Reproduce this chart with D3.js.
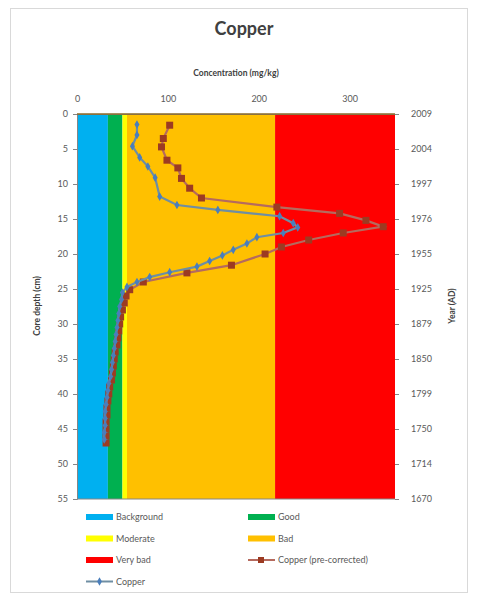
<!DOCTYPE html>
<html><head><meta charset="utf-8">
<script src="https://cdn.jsdelivr.net/npm/d3@7"></script>
<style>body{margin:0;background:#fff}svg{display:block}</style>
</head><body>
<svg id="c" width="478" height="599"></svg>
<script>
// ---- data ----
const bandNames = ["Background","Good","Moderate","Bad","Very bad"];
const bandUpper = [34, 50, 55, 218, 350];
const bandColors = ["#00B0F0","#00B050","#FFFF00","#FFC000","#FF0000"];

const depthTicks = [0,5,10,15,20,25,30,35,40,45,50,55];
const yearLabels = ["2009","2004","1997","1976","1955","1925","1879","1850","1799","1750","1714","1670"];
const concTicks = [0,100,200,300];

const copperDepth = [1.5,3,4.6,6.2,7.5,9.1,11.8,13,13.7,14.6,15.6,16.2,17,17.6,18.5,19.4,20.2,21,21.8,22.6,23.3,24,24.7,25.5,26.5,27.5,28.5,29.5,30.5,31.5,32.5,33.5,34.5,35.5,36.5,37.5,38.5,39.5,40.5,41.5,42.5,43.5,44.5,45.5,46.5];
const copperVal   = [66,66,61,69,78,86,91,110,155,223,238,243,227,198,187,172,160,146,132,102,80,66,55,50,49,47,46,45,44,43,42,41,40,39,38,37,35,34,33,32,31,31,31,30,30];

const preDepth = [1.6,3.5,4.7,6.6,7.7,9.2,10.6,12,13.3,14.2,15.2,16.1,17,18,19,20,21.6,22.7,24,25.1,26,27,28,29,30,31,32,33,34,35,36,37,38,39,40,41,42,43,44,45,46,47];
const preVal   = [102,95,93,99,111,115,124,137,220,289,318,337,293,255,225,207,170,121,73,58,54,52,50,48,47,46,45,44,42,41,40,39,38,36,35,34,33,33,32,32,32,32];

// ---- layout ----
const svg = d3.select("#c");
const font = "Lato, 'Open Sans', sans-serif";
const x = d3.scaleLinear().domain([0,350]).range([77,395]);
const y = d3.scaleLinear().domain([0,55]).range([114,499]);

svg.append("rect").attr("x",10.5).attr("y",8.5).attr("width",457).attr("height",584)
  .attr("fill","#fff").attr("stroke","#d9d9d9");

// bands
const lows = [0].concat(bandUpper.slice(0,-1));
svg.append("g").selectAll("rect").data(bandUpper).join("rect")
  .attr("x",(d,i)=>x(lows[i])).attr("width",(d,i)=>x(d)-x(lows[i]))
  .attr("y",y(0)).attr("height",y(55)-y(0))
  .attr("fill",(d,i)=>bandColors[i]);

// axes
const gTop = svg.append("g").attr("transform",`translate(0,${y(0)})`)
  .call(d3.axisTop(x).tickValues(concTicks).tickSize(0).tickPadding(12));
const gLeft = svg.append("g").attr("transform",`translate(${x(0)},0)`)
  .call(d3.axisLeft(y).tickValues(depthTicks).tickSize(4).tickPadding(5));
const yR = d3.scaleLinear().domain([0,55]).range([114,499]);
const gRight = svg.append("g").attr("transform",`translate(${x(350)},0)`)
  .call(d3.axisRight(yR).tickValues(depthTicks).tickSize(4).tickPadding(12)
    .tickFormat((d,i)=>yearLabels[i]));
[gTop,gLeft,gRight].forEach(g=>{
  g.selectAll("text").attr("font-family",font).attr("font-size",9).attr("fill","#595959");
  g.selectAll("line").attr("stroke","#868686");
  g.select(".domain").attr("stroke","#868686");
});
gRight.select(".domain").attr("stroke","none");
svg.append("line").attr("x1",x(0)).attr("x2",x(350)).attr("y1",y(55)).attr("y2",y(55)).attr("stroke","#868686");
svg.append("line").attr("x1",x(0)).attr("x2",x(350)).attr("y1",y(0)).attr("y2",y(0)).attr("stroke","#8a6a2a").attr("stroke-width",1.5);

// series
const line = d3.line();
const prePts = preDepth.map((d,i)=>[x(preVal[i]),y(d)]);
const cuPts = copperDepth.map((d,i)=>[x(copperVal[i]),y(d)]);
const preLine="#b56a5e", preMark="#9c3b22", cuLine="#6f8ea3", cuMark="#4a7ebb";
svg.append("path").attr("d",line(prePts)).attr("fill","none").attr("stroke",preLine).attr("stroke-width",2.2);
svg.append("g").selectAll("rect").data(prePts).join("rect")
  .attr("x",d=>d[0]-3.5).attr("y",d=>d[1]-3.5).attr("width",7).attr("height",7).attr("fill",preMark);
svg.append("path").attr("d",line(cuPts)).attr("fill","none").attr("stroke",cuLine).attr("stroke-width",2.2);
svg.append("g").selectAll("path").data(cuPts).join("path")
  .attr("d",d3.symbol(d3.symbolDiamond,22)).attr("transform",d=>`translate(${d[0]},${d[1]})`).attr("fill",cuMark);

// titles
svg.append("text").attr("x",244).attr("y",35).attr("text-anchor","middle")
  .attr("font-family",font).attr("font-weight","bold").attr("font-size",18).attr("fill","#404040").text("Copper");
svg.append("text").attr("x",236).attr("y",76).attr("text-anchor","middle")
  .attr("font-family",font).attr("font-weight","bold").attr("font-size",8.5).attr("fill","#404040").text("Concentration (mg/kg)");
svg.append("text").attr("transform","translate(40,306) rotate(-90)").attr("text-anchor","middle")
  .attr("font-family",font).attr("font-weight","bold").attr("font-size",8.5).attr("fill","#404040").text("Core depth (cm)");
svg.append("text").attr("transform","translate(455,306) rotate(-90)").attr("text-anchor","middle")
  .attr("font-family",font).attr("font-weight","bold").attr("font-size",8.5).attr("fill","#404040").text("Year (AD)");

// legend
const legItems = [
  {n:bandNames[0],t:"band",c:bandColors[0]},{n:bandNames[1],t:"band",c:bandColors[1]},
  {n:bandNames[2],t:"band",c:bandColors[2]},{n:bandNames[3],t:"band",c:bandColors[3]},
  {n:bandNames[4],t:"band",c:bandColors[4]},{n:"Copper (pre-corrected)",t:"pre"},
  {n:"Copper",t:"cu"}];
const lg = svg.append("g");
legItems.forEach((d,i)=>{
  const col=i%2, row=Math.floor(i/2);
  const lx = col? 248 : 86, ly = 517 + row*21.5;
  const g = lg.append("g").attr("transform",`translate(${lx},${ly})`);
  if(d.t==="band"){
    g.append("rect").attr("x",0).attr("y",-3).attr("width",27).attr("height",6).attr("fill",d.c);
  } else if(d.t==="pre"){
    g.append("line").attr("x1",0).attr("x2",27).attr("stroke",preLine).attr("stroke-width",2);
    g.append("rect").attr("x",10).attr("y",-3).attr("width",6).attr("height",6).attr("fill",preMark);
  } else {
    g.append("line").attr("x1",0).attr("x2",27).attr("stroke",cuLine).attr("stroke-width",2);
    g.append("path").attr("d",d3.symbol(d3.symbolDiamond,20)).attr("transform","translate(13.5,0)").attr("fill",cuMark);
  }
  g.append("text").attr("x",30).attr("y",3).attr("font-family",font).attr("font-size",9)
    .attr("fill","#595959").text(d.n);
});
</script>
</body></html>
